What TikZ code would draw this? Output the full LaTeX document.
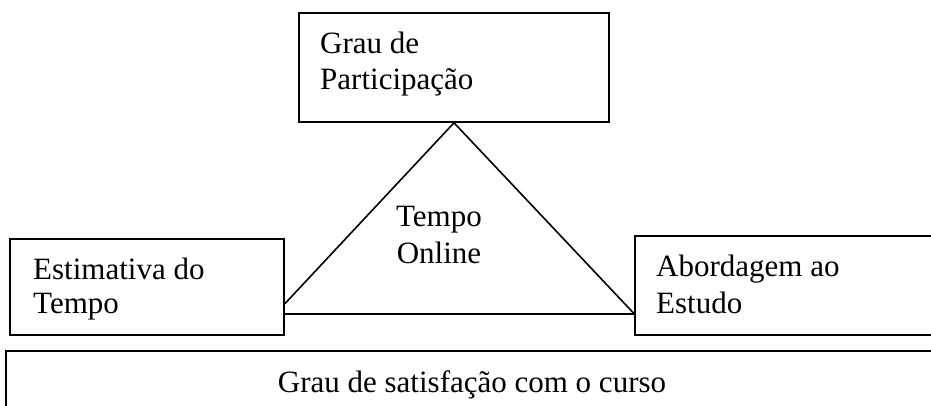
\documentclass[tikz,border=0pt]{standalone}
\usepackage{fontspec}
\setmainfont{Liberation Serif}
\usetikzlibrary{calc}
\tikzset{
  box/.style={draw=black, line width=1.6pt, rectangle, inner sep=0pt},
  txt/.style={inner sep=0pt, font=\fontsize{31}{36}\selectfont},
  edge/.style={draw=black, line width=1.6pt}
}
\begin{document}
\begin{tikzpicture}[x=1pt,y=-1pt]
\useasboundingbox (0,0) rectangle (931,406);
\clip (0,0) rectangle (931,406);
% boxes
\node[box, minimum width=310pt, minimum height=109pt] (part) at (454,67.5) {};
\node[box, minimum width=274pt, minimum height=96pt] (est) at (147,287) {};
\node[box, minimum width=325pt, minimum height=99pt] (abo) at (797.5,285.5) {};
\node[box, minimum width=954pt, minimum height=79pt] (sat) at (483,390.5) {};
% texts
\node[txt, anchor=base west] (part1) at (320,54) {Grau de};
\node[txt, anchor=base west] (part2) at (320,90) {Participação};
\node[txt, anchor=base west] (est1) at (33,279) {Estimativa do};
\node[txt, anchor=base west] (est2) at (33,313) {Tempo};
\node[txt, anchor=base west] (abo1) at (656,276) {Abordagem ao};
\node[txt, anchor=base west] (abo2) at (656,313) {Estudo};
\node[txt, anchor=base] (on1) at (439,226) {Tempo};
\node[txt, anchor=base] (on2) at (439,263) {Online};
\node[txt, anchor=base] (sat1) at (472,392) {Grau de satisfação com o curso};
% triangle
\coordinate (lt) at ($(est.south east)+(0,-32)$);
\coordinate (lb) at ($(est.south east)+(0,-22)$);
\coordinate (rb) at ($(abo.south west)+(0,-22)$);
\draw[edge] (part.south) -- (lt);
\draw[edge] (part.south) -- (rb);
\draw[edge] (lb) -- (rb);
\end{tikzpicture}
\end{document}
